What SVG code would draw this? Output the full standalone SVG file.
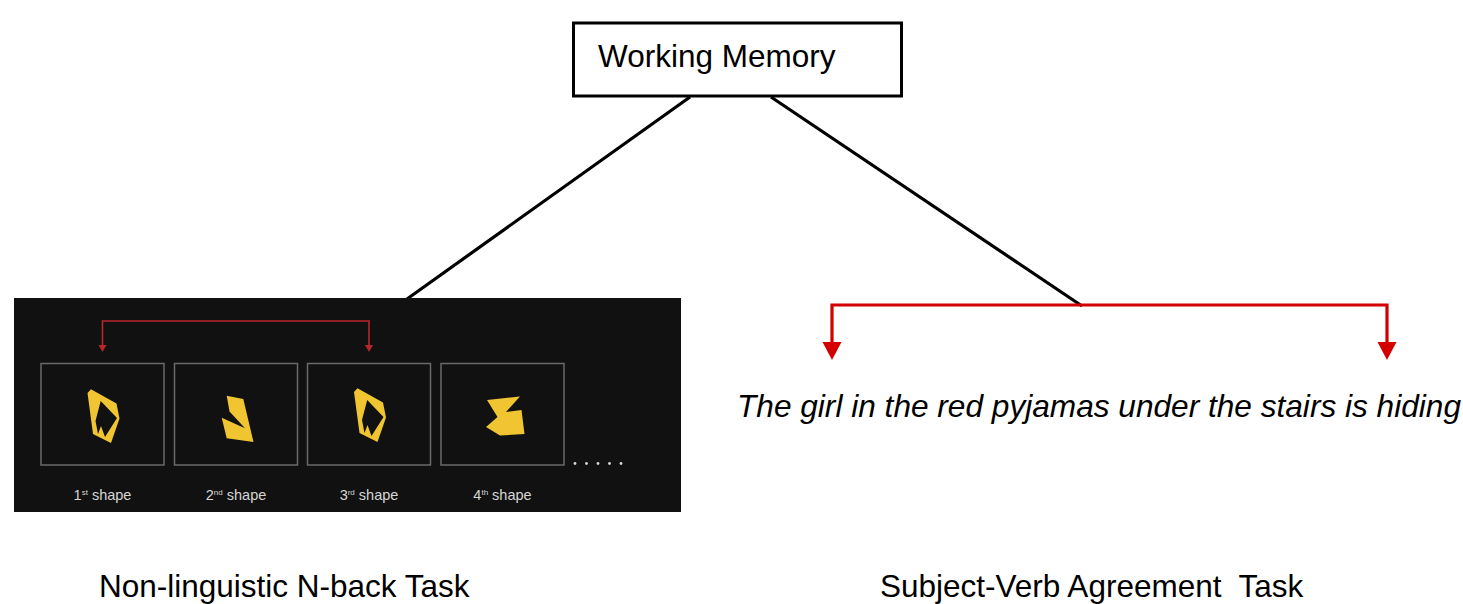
<svg xmlns="http://www.w3.org/2000/svg" width="1463" height="604" viewBox="0 0 1463 604">
<style>
.big{font-family:"Liberation Sans",Arial,sans-serif;font-size:31.5px;fill:#000}
.lbl{font-family:"Liberation Sans",Arial,sans-serif;font-size:14.5px;fill:#d6d6d6}
.sup{font-size:8px}
.frame{fill:none;stroke:#6a6a6a;stroke-width:1.5}
.shape{fill:#f0c531;fill-rule:evenodd}
.conn{fill:none;stroke:#000;stroke-width:3.2}
.red{fill:none;stroke:#d40000;stroke-width:3.2}
.dred{fill:none;stroke:#b8262b;stroke-width:1.6}
</style>
<rect width="1463" height="604" fill="#fff"/>

<g id="connectors">
<line class="conn" x1="690" y1="97" x2="407" y2="299"/>
<line class="conn" x1="771" y1="97" x2="1082" y2="306"/>
<polyline class="red" points="832,343 832,305 1387,305 1387,343"/>
<path d="M822.5,342 L841.5,342 L832,360 z" fill="#d40000"/>
<path d="M1377.5,342 L1396.5,342 L1387,360 z" fill="#d40000"/>
</g>

<g id="working-memory">
<rect x="573.5" y="23" width="328" height="73" fill="#fff" stroke="#000" stroke-width="3"/>
<text class="big" x="598" y="67" font-size="32">Working Memory</text>
</g>

<g id="nback-panel">
<rect x="14" y="298" width="667" height="214" fill="#111111"/>
<polyline class="dred" points="102.5,347 102.5,321 369,321 369,347"/>
<path d="M98.5,345 L106.5,345 L102.5,352 z" fill="#b8262b"/>
<path d="M365,345 L373,345 L369,352 z" fill="#b8262b"/>
<rect class="frame" x="41" y="363.5" width="123" height="101.5"/>
<rect class="frame" x="174.5" y="363.5" width="123" height="101.5"/>
<rect class="frame" x="307.5" y="363.5" width="123" height="101.5"/>
<rect class="frame" x="441" y="363.5" width="123" height="101.5"/>
<path class="shape" d="M87.5,393 L91,389.3 L116.5,403.5 L119.5,418.5 L111,443 L93,434 Z M100.7,401 L117,418 L105,437 L101,426 L98,434 L95.5,421 Z"/>
<path class="shape" d="M226.7,395.7 L243.3,399 L253.5,442 L226.7,438.3 L221.7,417.7 L245,428.3 L229.5,411.5 Z"/>
<path class="shape" d="M354,392 L357.5,388.3 L383,402.5 L386,417.5 L377.5,442 L359.5,433 Z M367.2,400 L383.5,417 L371.5,436 L367.5,425 L364.5,433 L362,420 Z"/>
<path class="shape" d="M487,400 L520,396.5 L506,412 L521.5,410 L524.5,434 L500,435.5 L486,427 L497.5,417 Z"/>
<text class="lbl" x="102.5" y="500" text-anchor="middle">1<tspan class="sup" dy="-5">st</tspan><tspan dy="5"> shape</tspan></text>
<text class="lbl" x="236" y="500" text-anchor="middle">2<tspan class="sup" dy="-5">nd</tspan><tspan dy="5"> shape</tspan></text>
<text class="lbl" x="369" y="500" text-anchor="middle">3<tspan class="sup" dy="-5">rd</tspan><tspan dy="5"> shape</tspan></text>
<text class="lbl" x="502.5" y="500" text-anchor="middle">4<tspan class="sup" dy="-5">th</tspan><tspan dy="5"> shape</tspan></text>
<g fill="#d6d6d6">
<circle cx="575" cy="463.5" r="1.4"/>
<circle cx="586.5" cy="463.5" r="1.4"/>
<circle cx="598" cy="463.5" r="1.4"/>
<circle cx="609.5" cy="463.5" r="1.4"/>
<circle cx="621" cy="463.5" r="1.4"/>
</g>
</g>

<g id="sentence">
<text class="big" x="737" y="417" font-style="italic" textLength="724" lengthAdjust="spacingAndGlyphs">The girl in the red pyjamas under the stairs is hiding</text>
</g>

<g id="captions">
<text class="big" x="99" y="597">Non-linguistic N-back Task</text>
<text class="big" x="880" y="597" xml:space="preserve" style="white-space:pre">Subject-Verb Agreement  Task</text>
</g>
</svg>
